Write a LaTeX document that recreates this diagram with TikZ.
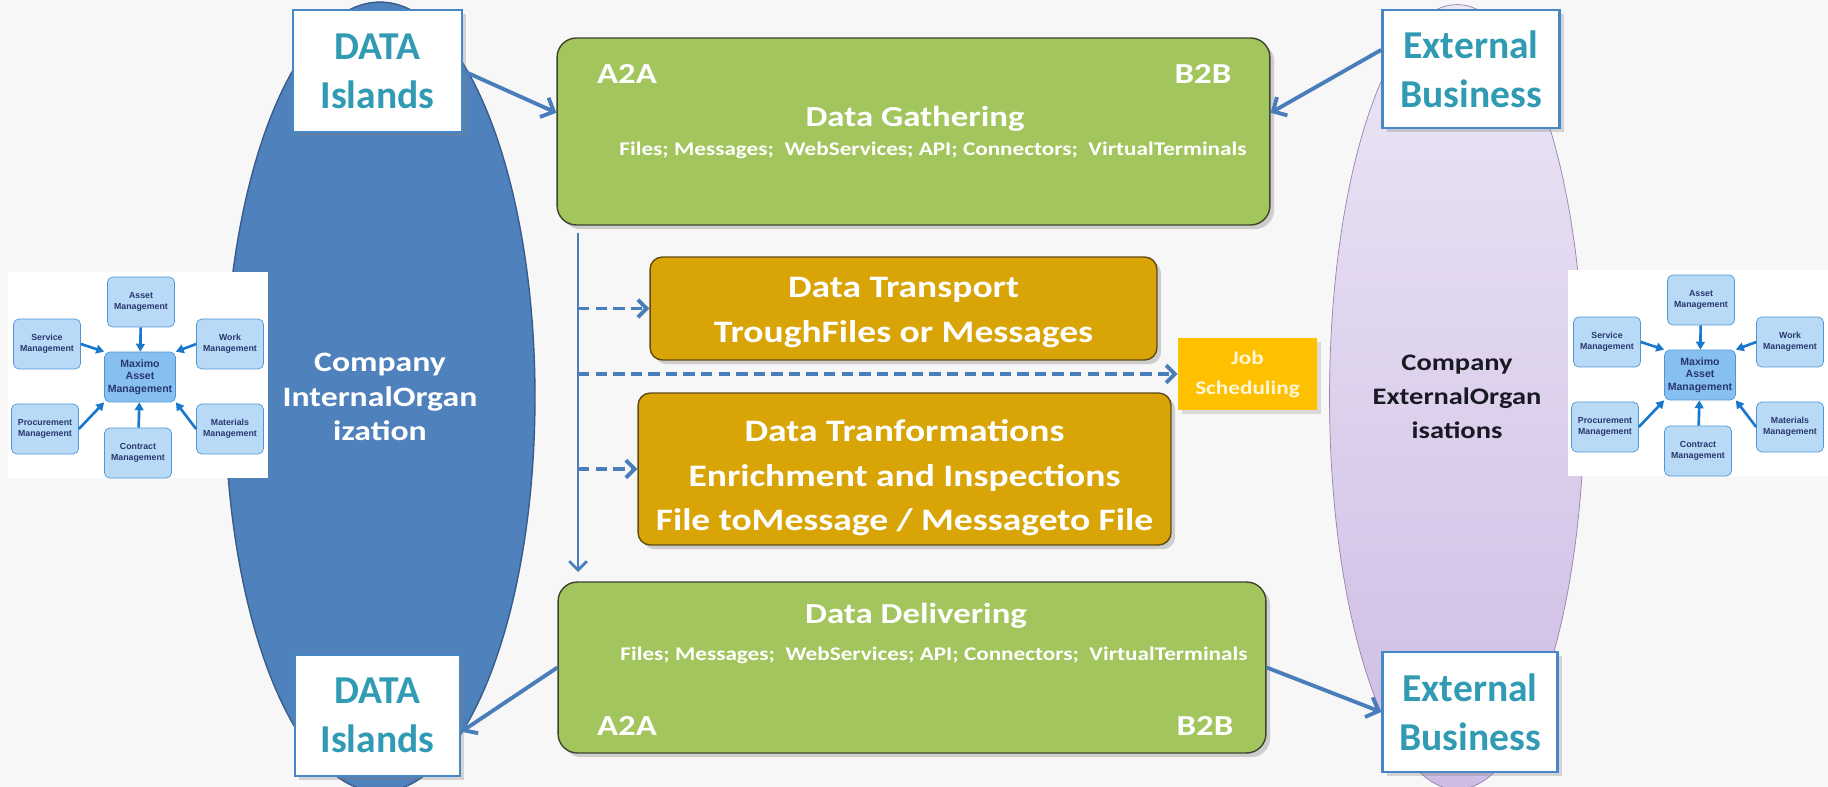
\documentclass[tikz,border=0pt]{standalone}
\usepackage{fontspec}
\setmainfont{Carlito}
\newfontfamily\wideface{Carlito}[FakeStretch=1.2]
\newfontfamily\miniface{Liberation Sans}
\usetikzlibrary{shapes}
\usetikzlibrary{shapes.geometric}
\usetikzlibrary{positioning}
\usetikzlibrary{arrows.meta}
\usetikzlibrary{shadows}
\definecolor{bgpage}{RGB}{247,247,247}
\definecolor{inblue}{RGB}{79,129,189}
\definecolor{inblueline}{RGB}{56,93,140}
\definecolor{lavtop}{RGB}{236,230,245}
\definecolor{lavbot}{RGB}{206,188,228}
\definecolor{lavline}{RGB}{150,130,175}
\definecolor{leaf}{RGB}{163,197,94}
\definecolor{leafline}{RGB}{60,70,45}
\definecolor{ochre}{RGB}{217,164,6}
\definecolor{ochreline}{RGB}{95,75,20}
\definecolor{amber}{RGB}{255,192,0}
\definecolor{cream}{RGB}{255,246,215}
\definecolor{tealtext}{RGB}{49,155,180}
\definecolor{islandline}{RGB}{70,135,200}
\definecolor{arrowblue}{RGB}{74,126,187}
\definecolor{minifill}{RGB}{185,218,246}
\definecolor{minicorefill}{RGB}{135,192,240}
\definecolor{miniline}{RGB}{80,150,215}
\definecolor{minitext}{RGB}{40,55,110}
\definecolor{miniarrow}{RGB}{25,120,205}
\definecolor{darkink}{RGB}{25,25,35}
\tikzset{
    orgin/.style = {ellipse, thick, draw=inblueline, fill=inblue, inner sep=0pt, minimum width=6.2cm, minimum height=15.8cm, align=center, text=white, font=\wideface\bfseries\fontsize{16}{19.5}\selectfont},
    orgex/.style = {ellipse, draw=lavline, top color=lavtop, bottom color=lavbot, inner sep=0pt, minimum width=5.1cm, minimum height=15.7cm, align=center, text=darkink, font=\wideface\bfseries\fontsize{13.5}{19.5}\selectfont},
    island/.style = {rectangle, line width=1.5pt, draw=islandline, fill=white, align=center, text=tealtext, font=\bfseries\fontsize{22.5}{28}\selectfont, drop shadow={opacity=0.3}},
    greenbox/.style = {rectangle, rounded corners=11pt, thick, draw=leafline, fill=leaf, drop shadow={opacity=0.35}},
    goldbox/.style = {rectangle, rounded corners=7pt, thick, draw=ochreline, fill=ochre, drop shadow={opacity=0.35}},
    goldtext/.style = {inner sep=0pt, align=center, text=white, font=\wideface\bfseries\fontsize{17.8}{25.5}\selectfont},
    jobbox/.style = {rectangle, fill=amber, align=center, text=cream, font=\wideface\bfseries\fontsize{11}{17}\selectfont, drop shadow={opacity=0.25}},
    boxtitle/.style = {inner sep=0pt, text=white, font=\wideface\bfseries\fontsize{16.5}{20}\selectfont},
    boxsub/.style = {inner sep=0pt, text=white, font=\wideface\bfseries\fontsize{11}{13}\selectfont},
    minibox/.style = {rectangle, rounded corners=3pt, draw=miniline, fill=minifill, minimum width=1.34cm, minimum height=1cm, inner sep=1pt, align=center, text=minitext, font=\miniface\bfseries\fontsize{5}{6.5}\selectfont},
    minicore/.style = {minibox, fill=minicorefill, minimum width=1.42cm, font=\miniface\bfseries\fontsize{6}{7}\selectfont},
    edgeb/.style = {-{Straight Barb[length=6pt,width=12pt]}, line width=2.2pt, arrowblue},
    edget/.style = {-{Straight Barb[length=5pt,width=10pt]}, line width=1.6pt, arrowblue},
    edged/.style = {-{Straight Barb[length=5pt,width=10pt]}, line width=2.2pt, arrowblue, dash pattern=on 6.5pt off 3.5pt},
    edgem/.style = {-{Triangle[length=4.5pt,width=5pt]}, line width=1.5pt, miniarrow},
    maximo/.pic = {
        \fill[white] (-132,-105) rectangle (128,101);
        \node[minicore] (-core) at (0,0) {Maximo\\Asset\\Management};
        \node[minibox] (-asset) at (1,-75) {Asset\\Management};
        \node[minibox] (-service) at (-93,-33) {Service\\Management};
        \node[minibox] (-work) at (90,-33) {Work\\Management};
        \node[minibox] (-procure) at (-95,52) {Procurement\\Management};
        \node[minibox] (-contract) at (-2,76) {Contract\\Management};
        \node[minibox] (-material) at (90,52) {Materials\\Management};
        \draw[edgem] (-asset) -- (-core);
        \draw[edgem] (-contract) -- (-core);
        \draw[edgem] (-service.east) -- (-core.north west);
        \draw[edgem] (-work.west) -- (-core.north east);
        \draw[edgem] (-procure.east) -- (-core.south west);
        \draw[edgem] (-material.west) -- (-core.south east);
    }
}

\begin{document}
\begin{tikzpicture}[x=0.02cm, y=-0.02cm]
\useasboundingbox[fill=bgpage] (0,0) rectangle (1828,787);
%
\node[orgin] at (380,397) (inorg) {Company\\InternalOrgan\\ization};
\node[orgex] at (1457,397) (exorg) {Company\\ExternalOrgan\\isations};
%
\pic (maxL) at (140,377) {maximo};
\pic (maxR) at (1700,375) {maximo};
%
\node[island, minimum width=3.38cm, minimum height=2.44cm] at (377.5,71) (islandsTop) {DATA\\Islands};
\node[island, minimum width=3.3cm, minimum height=2.42cm] at (377.5,715.5) (islandsBot) {DATA\\Islands};
\node[island, minimum width=3.54cm, minimum height=2.36cm] at (1471,69) (extTop) {External\\Business};
\node[island, minimum width=3.5cm, minimum height=2.4cm] at (1470,712) (extBot) {External\\Business};
%
\node[greenbox, minimum width=14.26cm, minimum height=3.74cm] at (913.5,131.5) (gather) {};
\node[boxtitle] at (627,74) (gatherA) {A2A};
\node[boxtitle] at (1203,74) (gatherB) {B2B};
\node[boxtitle] at (915,119) (gatherTitle) {Data Gathering};
\node[boxsub] at (933,150) (gatherSub) {Files; Messages;\ \ WebServices; API; Connectors;\ \ VirtualTerminals};
%
\node[goldbox, minimum width=10.14cm, minimum height=2.06cm] at (903.5,308.5) (transport) {};
\node[goldtext] at ([yshift=-2.5pt]transport.center) (transportText) {Data Transport\\TroughFiles or Messages};
\node[jobbox, minimum width=2.78cm, minimum height=1.44cm] at (1247.5,374) (job) {Job\\Scheduling};
\node[goldbox, minimum width=10.66cm, minimum height=3.04cm] at (904.5,469) (transform) {};
\node[goldtext] at ([yshift=-5pt]transform.center) (transformText) {Data Tranformations\\Enrichment and Inspections\\File toMessage / Messageto File};
%
\node[greenbox, minimum width=14.16cm, minimum height=3.42cm] at (912,667.5) (deliver) {};
\node[boxtitle] at (916,616) (deliverTitle) {Data Delivering};
\node[boxsub] at (934,655) (deliverSub) {Files; Messages;\ \ WebServices; API; Connectors;\ \ VirtualTerminals};
\node[boxtitle] at (627,726) (deliverA) {A2A};
\node[boxtitle] at (1205,726) (deliverB) {B2B};
%
\coordinate (trunkTop) at (578,233);
\coordinate (trunkEnd) at (578,572);
\draw[edget] (trunkTop) -- (trunkEnd);
\draw[edged] (trunkTop |- transport.west) -- (transport.west);
\draw[edged] (trunkTop |- job.west) -- (job.west);
\draw[edged] (trunkTop |- transform.west) -- (transform.west);
%
\draw[edgeb] (islandsTop.east) -- (gather.177);
\draw[edgeb] (extTop.168) -- (gather.3);
\draw[edgeb] (deliver.west) -- (islandsBot.349);
\draw[edgeb] (deliver.east) -- (extBot.west);

\end{tikzpicture}
\end{document}
